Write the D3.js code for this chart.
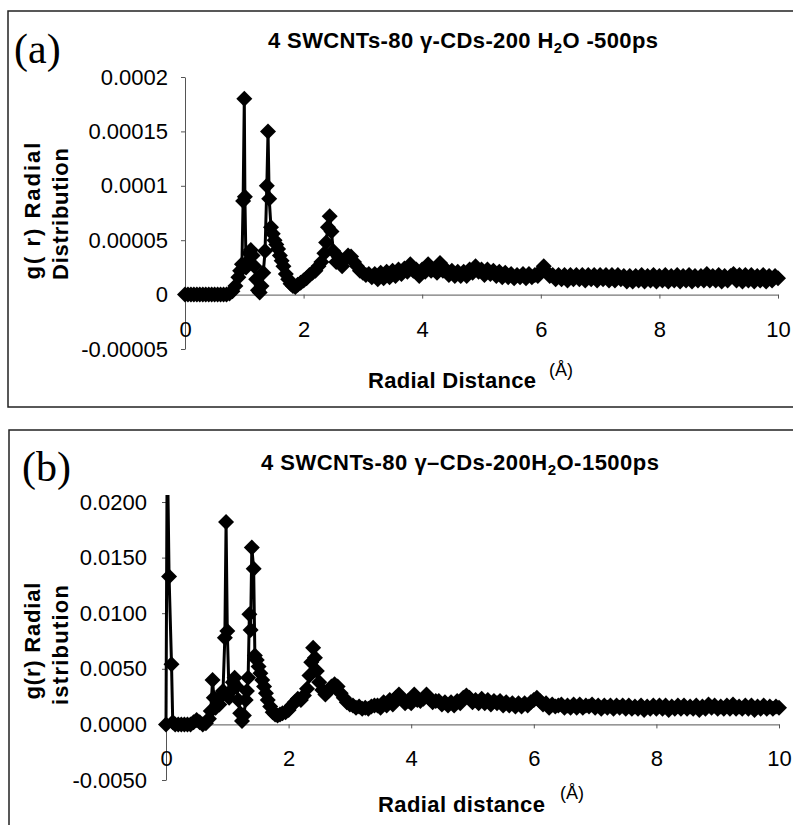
<!DOCTYPE html>
<html>
<head>
<meta charset="utf-8">
<script src="https://cdn.jsdelivr.net/npm/d3@7"></script>
<style>
  body { margin: 0; background: #fff; }
  svg { display: block; }
</style>
</head>
<body>
<svg id="chart" width="793" height="825"></svg>
<script>
// ---------- shared axis ticks ----------
const xTicks = [0, 2, 4, 6, 8, 10];

const yTicksA = [-0.00005, 0, 0.00005, 0.0001, 0.00015, 0.0002];
const yTickLabelsA = ["-0.00005", "0", "0.00005", "0.0001", "0.00015", "0.0002"];

const yTicksB = [-0.005, 0, 0.005, 0.01, 0.015, 0.02];
const yTickLabelsB = ["-0.0050", "0.0000", "0.0050", "0.0100", "0.0150", "0.0200"];

// ---------- panel (a): 500 ps, g(r) in units of 1e-6 ----------
const unitA = 1e-6;
const rA = [
  0, 0.05, 0.1, 0.15, 0.2, 0.25, 0.3, 0.35, 0.4, 0.45,
  0.5, 0.55, 0.6, 0.65, 0.7, 0.75, 0.8, 0.85, 0.9, 0.93,
  0.96, 0.98, 1.0, 1.01, 1.03, 1.05, 1.08, 1.11, 1.14, 1.17,
  1.2, 1.23, 1.26, 1.29, 1.32, 1.35, 1.38, 1.4, 1.42, 1.45,
  1.48, 1.51, 1.54, 1.57, 1.6, 1.63, 1.66, 1.7, 1.74, 1.78,
  1.82, 1.86, 1.9, 1.95, 2.0, 2.05, 2.1, 2.15, 2.2, 2.25,
  2.3, 2.35, 2.38, 2.41, 2.44, 2.47, 2.5, 2.55, 2.6, 2.65,
  2.7, 2.75, 2.8, 2.85, 2.9, 2.95, 3.0, 3.05, 3.1, 3.15,
  3.2, 3.25, 3.3, 3.35, 3.4, 3.45, 3.5, 3.55, 3.6, 3.65,
  3.7, 3.75, 3.8, 3.85, 3.9, 3.95, 4.0, 4.05, 4.1, 4.15,
  4.2, 4.25, 4.3, 4.35, 4.4, 4.45, 4.5, 4.55, 4.6, 4.65,
  4.7, 4.75, 4.8, 4.85, 4.9, 4.95, 5.0, 5.05, 5.1, 5.15,
  5.2, 5.25, 5.3, 5.35, 5.4, 5.45, 5.5, 5.55, 5.6, 5.65,
  5.7, 5.75, 5.8, 5.85, 5.9, 5.95, 6.0, 6.05, 6.1, 6.15,
  6.2, 6.25, 6.3, 6.35, 6.4, 6.45, 6.5, 6.55, 6.6, 6.65,
  6.7, 6.75, 6.8, 6.85, 6.9, 6.95, 7.0, 7.05, 7.1, 7.15,
  7.2, 7.25, 7.3, 7.35, 7.4, 7.45, 7.5, 7.55, 7.6, 7.65,
  7.7, 7.75, 7.8, 7.85, 7.9, 7.95, 8.0, 8.05, 8.1, 8.15,
  8.2, 8.25, 8.3, 8.35, 8.4, 8.45, 8.5, 8.55, 8.6, 8.65,
  8.7, 8.75, 8.8, 8.85, 8.9, 8.95, 9.0, 9.05, 9.1, 9.15,
  9.2, 9.25, 9.3, 9.35, 9.4, 9.45, 9.5, 9.55, 9.6, 9.65,
  9.7, 9.75, 9.8, 9.85, 9.9, 9.95, 10.0
];
const gA = [
  0, 0, 0, 0, 0, 0, 0, 0, 0, 0,
  0, 0, 0, 0, 0, 1, 3, 8, 16, 22,
  28, 86, 180, 90, 25, 30, 38, 41, 36, 26,
  14, 4, 2, 8, 20, 40, 100, 150, 88, 62,
  56, 50, 46, 42, 36, 31, 26, 19, 14, 10,
  8, 7, 9, 11, 13, 15, 18, 20, 22, 26,
  30, 38, 48, 62, 72, 58, 40, 30, 34, 26,
  32, 36, 35, 30, 26, 22, 20, 18, 19, 16,
  19, 14, 20, 15, 21, 16, 22, 17, 23, 19,
  24, 21, 28, 22, 23, 17, 23, 21, 28, 22,
  23, 20, 29, 22, 23, 18, 22, 17, 21, 17,
  21, 17, 23, 20, 26, 21, 23, 18, 23, 19,
  22, 17, 21, 16, 20, 16, 19, 15, 18, 16,
  19, 15, 19, 16, 18, 17, 22, 26, 21, 17,
  18, 14, 18, 14, 18, 13, 18, 14, 18, 14,
  18, 13, 18, 14, 18, 13, 18, 14, 18, 13,
  18, 13, 18, 14, 17, 12, 17, 12, 17, 13,
  18, 12, 17, 13, 18, 12, 17, 13, 18, 12,
  17, 13, 18, 12, 17, 13, 18, 12, 17, 13,
  17, 13, 19, 13, 17, 13, 18, 12, 17, 13,
  17, 19, 13, 18, 12, 18, 13, 18, 12, 17,
  13, 18, 12, 17, 13, 17, 15
];

// ---------- panel (b): 1500 ps, g(r) in units of 1e-4 ----------
const unitB = 1e-4;
const rB = [
  0, 0.02, 0.05, 0.09, 0.11, 0.15, 0.2, 0.25, 0.3, 0.35,
  0.4, 0.45, 0.5, 0.55, 0.6, 0.65, 0.7, 0.73, 0.76, 0.78,
  0.81, 0.84, 0.87, 0.9, 0.93, 0.96, 0.98, 1.0, 1.03, 1.06,
  1.09, 1.12, 1.15, 1.18, 1.21, 1.24, 1.27, 1.3, 1.32, 1.34,
  1.36, 1.38, 1.4, 1.43, 1.45, 1.48, 1.51, 1.54, 1.57, 1.6,
  1.63, 1.66, 1.7, 1.74, 1.78, 1.82, 1.86, 1.9, 1.95, 2.0,
  2.05, 2.1, 2.15, 2.2, 2.25, 2.3, 2.34, 2.37, 2.4, 2.43,
  2.46, 2.5, 2.55, 2.6, 2.65, 2.7, 2.75, 2.8, 2.85, 2.9,
  2.95, 3.0, 3.05, 3.1, 3.15, 3.2, 3.25, 3.3, 3.35, 3.4,
  3.45, 3.5, 3.55, 3.6, 3.65, 3.7, 3.75, 3.8, 3.85, 3.9,
  3.95, 4.0, 4.05, 4.1, 4.15, 4.2, 4.25, 4.3, 4.35, 4.4,
  4.45, 4.5, 4.55, 4.6, 4.65, 4.7, 4.75, 4.8, 4.85, 4.9,
  4.95, 5.0, 5.05, 5.1, 5.15, 5.2, 5.25, 5.3, 5.35, 5.4,
  5.45, 5.5, 5.55, 5.6, 5.65, 5.7, 5.75, 5.8, 5.85, 5.9,
  5.95, 6.0, 6.05, 6.1, 6.15, 6.2, 6.25, 6.3, 6.35, 6.4,
  6.45, 6.5, 6.55, 6.6, 6.65, 6.7, 6.75, 6.8, 6.85, 6.9,
  6.95, 7.0, 7.05, 7.1, 7.15, 7.2, 7.25, 7.3, 7.35, 7.4,
  7.45, 7.5, 7.55, 7.6, 7.65, 7.7, 7.75, 7.8, 7.85, 7.9,
  7.95, 8.0, 8.05, 8.1, 8.15, 8.2, 8.25, 8.3, 8.35, 8.4,
  8.45, 8.5, 8.55, 8.6, 8.65, 8.7, 8.75, 8.8, 8.85, 8.9,
  8.95, 9.0, 9.05, 9.1, 9.15, 9.2, 9.25, 9.3, 9.35, 9.4,
  9.45, 9.5, 9.55, 9.6, 9.65, 9.7, 9.75, 9.8, 9.85, 9.9,
  9.95, 10.0
];
const gB = [
  0, 260, 133, 54, 2, 0, 0, 0, 0, 0,
  0, 2, 4, 2, 0, 1, 5, 12, 40, 24,
  15, 22, 18, 26, 30, 78, 182, 84, 24, 30,
  38, 42, 34, 22, 10, 3, 8, 22, 30, 42,
  99, 85, 159, 140, 62, 58, 52, 46, 40, 34,
  28, 22, 16, 11, 9, 8, 9, 10, 11, 13,
  17, 20, 23, 22, 26, 32, 44, 56, 69, 60,
  48, 38, 31, 27, 30, 34, 36, 34, 28, 24,
  20, 18, 17, 15, 16, 14, 15, 14, 16, 17,
  17, 15, 20, 17, 22, 18, 24, 27, 23, 19,
  21, 19, 27, 22, 21, 23, 27, 23, 20, 21,
  21, 18, 20, 17, 20, 17, 21, 19, 24, 26,
  24, 20, 22, 19, 23, 19, 22, 18, 21, 19,
  21, 17, 20, 17, 19, 16, 19, 16, 19, 17,
  20, 22, 24, 21, 18, 19, 15, 18, 16, 17,
  18, 15, 17, 15, 18, 15, 18, 15, 17, 16,
  18, 15, 17, 14, 17, 15, 17, 14, 17, 15,
  17, 14, 17, 14, 16, 14, 17, 13, 16, 14,
  17, 14, 17, 14, 17, 13, 16, 14, 17, 14,
  17, 14, 16, 14, 17, 13, 16, 14, 18, 15,
  17, 14, 16, 14, 17, 14, 18, 14, 16, 14,
  17, 14, 17, 13, 16, 14, 17, 14, 16, 14,
  16, 15
];

// ---------- drawing ----------
const svg = d3.select("#chart");
const SANS = "Arial, 'Liberation Sans', sans-serif";
const SERIF = "'Times New Roman', 'Liberation Serif', serif";

// Excel-style diamond: a square turned 45 degrees
const diamond = {
  draw(ctx, size) {
    const r = Math.sqrt(size / 2);
    ctx.moveTo(0, -r); ctx.lineTo(r, 0); ctx.lineTo(0, r); ctx.lineTo(-r, 0); ctx.closePath();
  }
};
const MARKER_R = 8;

function drawPanel(p) {
  const g = svg.append("g").style("font-family", SANS);

  // outer frame
  g.append("rect")
    .attr("x", p.frame[0]).attr("y", p.frame[1])
    .attr("width", p.frame[2]).attr("height", p.frame[3])
    .attr("fill", "none").attr("stroke", "#222").attr("stroke-width", 1.5);

  const x = d3.scaleLinear().domain([0, 10]).range(p.xRange);
  const y = d3.scaleLinear().domain(p.yDomain).range(p.yRange);

  // axes
  const yAxis = d3.axisLeft(y)
    .tickValues(p.yTicks)
    .tickFormat((d, i) => p.yTickLabels[i])
    .tickSize(4).tickSizeOuter(0).tickPadding(p.yPad);
  const yG = g.append("g").attr("transform", `translate(${x(0)},0)`).call(yAxis);

  const xAxis = d3.axisBottom(x)
    .tickValues(xTicks)
    .tickFormat(d3.format("d"))
    .tickSize(4).tickSizeOuter(0).tickPadding(p.xPad);
  const xG = g.append("g").attr("transform", `translate(0,${y(0)})`).call(xAxis);

  [yG, xG].forEach(a => {
    a.selectAll("path, line").attr("stroke", "#555").attr("stroke-width", 1);
    a.selectAll("text").attr("font-size", 22).style("font-family", SANS).attr("fill", "#000");
  });

  // series
  const pts = p.r.map((r, i) => [r, p.g[i] * p.unit]);
  const clipId = "clip-" + p.tag.replace(/\W/g, "");
  g.append("clipPath").attr("id", clipId)
    .append("rect")
    .attr("x", p.xRange[0] - 12).attr("y", p.clipTop)
    .attr("width", p.xRange[1] - p.xRange[0] + 24)
    .attr("height", p.yRange[0] - p.clipTop);

  const plot = g.append("g").attr("clip-path", `url(#${clipId})`);
  plot.append("path")
    .datum(pts)
    .attr("fill", "none")
    .attr("stroke", "#000")
    .attr("stroke-width", 3)
    .attr("stroke-linejoin", "round")
    .attr("d", d3.line().x(d => x(d[0])).y(d => y(d[1])));

  plot.selectAll("path.pt")
    .data(pts.filter(d => d[1] <= p.yDomain[1]))
    .join("path")
    .attr("class", "pt")
    .attr("transform", d => `translate(${x(d[0])},${y(d[1])})`)
    .attr("d", d3.symbol().type(diamond).size(2 * MARKER_R * MARKER_R))
    .attr("fill", "#000");

  // panel tag
  g.append("text")
    .attr("x", p.tagPos[0]).attr("y", p.tagPos[1])
    .style("font-family", SERIF)
    .attr("font-size", 42)
    .text(p.tag);

  // title with subscript
  const t = g.append("text")
    .attr("x", p.title.x).attr("y", p.title.y)
    .attr("font-size", 22).attr("font-weight", "bold")
    .attr("textLength", p.title.len).attr("lengthAdjust", "spacing");
  t.append("tspan").text(p.title.parts[0]);
  t.append("tspan").attr("font-size", 15).attr("dy", 5).text("2");
  t.append("tspan").attr("dy", -5).text(p.title.parts[1]);

  // y-axis title (two rotated lines)
  p.yTitle.forEach(l => {
    g.append("text")
      .attr("transform", `translate(${l.x},${l.y}) rotate(-90)`)
      .attr("text-anchor", "middle")
      .attr("font-size", 22).attr("font-weight", "bold")
      .attr("textLength", l.len).attr("lengthAdjust", "spacing")
      .text(l.text);
  });

  // x-axis title with unit
  g.append("text")
    .attr("x", p.xTitle.x).attr("y", p.xTitle.y)
    .attr("font-size", 22).attr("font-weight", "bold")
    .attr("textLength", p.xTitle.len).attr("lengthAdjust", "spacing")
    .text(p.xTitle.text);
  g.append("text")
    .attr("x", p.unitPos[0]).attr("y", p.unitPos[1])
    .attr("font-size", 18)
    .text("(Å)");
}

drawPanel({
  tag: "(a)", tagPos: [14, 63],
  frame: [8, 11, 800, 396],
  r: rA, g: gA, unit: unitA,
  xRange: [185, 778], yDomain: [-0.00005, 0.0002], yRange: [349, 77],
  yTicks: yTicksA, yTickLabels: yTickLabelsA, yPad: 13, xPad: 23,
  clipTop: 60,
  title: { x: 268, y: 48, len: 390, parts: ["4 SWCNTs-80 γ-CDs-200 H", "O -500ps"] },
  yTitle: [
    { text: "g( r) Radial", x: 40, y: 211, len: 137 },
    { text: "Distribution", x: 68, y: 214, len: 132 }
  ],
  xTitle: { text: "Radial Distance", x: 368, y: 388, len: 168 },
  unitPos: [549, 376]
});

drawPanel({
  tag: "(b)", tagPos: [22, 481],
  frame: [9, 430, 800, 400],
  r: rB, g: gB, unit: unitB,
  xRange: [166, 779], yDomain: [-0.005, 0.02], yRange: [780, 502],
  yTicks: yTicksB, yTickLabels: yTickLabelsB, yPad: 15, xPad: 22,
  clipTop: 495,
  title: { x: 261, y: 470, len: 398, parts: ["4 SWCNTs-80 γ–CDs-200H", "O-1500ps"] },
  yTitle: [
    { text: "g(r) Radial", x: 40, y: 641, len: 117 },
    { text: "istribution", x: 68, y: 645, len: 120 }
  ],
  xTitle: { text: "Radial distance", x: 378, y: 812, len: 167 },
  unitPos: [560, 799]
});
</script>
</body>
</html>
